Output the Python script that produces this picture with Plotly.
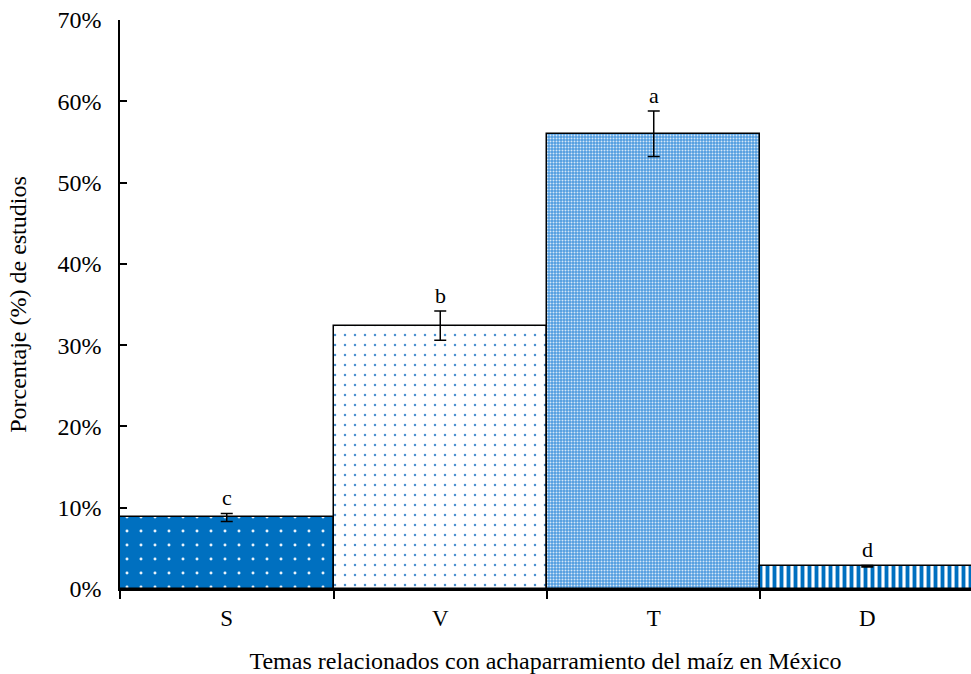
import plotly.graph_objects as go

# Data
categories = ["S", "V", "T", "D"]
values = [0.088, 0.324, 0.560, 0.028]
errors = [0.005, 0.018, 0.028, 0.001]
letters = ["c", "b", "a", "d"]
y_ticks = [0, 0.1, 0.2, 0.3, 0.4, 0.5, 0.6, 0.7]

BLUE = "#0070C0"
patterns = [
    dict(shape=".", bgcolor=BLUE, fgcolor="#E8F2FB", size=14, solidity=0.035, fillmode="replace"),
    dict(shape=".", bgcolor="white", fgcolor="#4A90D0", size=10, solidity=0.05, fillmode="replace"),
    dict(shape=".", bgcolor="#4E9BDF", fgcolor="#D6E7F7", size=3, solidity=0.35, fillmode="replace"),
    dict(shape="|", bgcolor="white", fgcolor=BLUE, size=7, solidity=0.55, fillmode="replace"),
]

FONT = "Liberation Serif, Times New Roman, serif"

fig = go.Figure()
for cat, val, err, pat in zip(categories, values, errors, patterns):
    fig.add_trace(go.Bar(
        x=[cat], y=[val],
        error_y=dict(type="data", array=[err], color="black", thickness=1.5, width=6),
        marker=dict(color=pat["bgcolor"], pattern=pat, line=dict(color="black", width=1.5)),
        showlegend=False,
    ))

for cat, val, err, lab in zip(categories, values, errors, letters):
    fig.add_annotation(x=cat, y=val + err, text=lab, showarrow=False,
                       yanchor="bottom", yshift=1,
                       font=dict(family=FONT, size=22, color="black"))

fig.update_layout(
    width=971, height=674,
    margin=dict(l=120, r=0, t=20, b=85),
    paper_bgcolor="white", plot_bgcolor="white",
    bargap=0, barmode="overlay",
    font=dict(family=FONT, size=23, color="black"),
)
fig.update_xaxes(
    range=[-0.5, 3.486], categoryorder="array", categoryarray=categories,
    showline=True, linecolor="black", linewidth=1.5,
    ticks="outside", tickson="boundaries", ticklen=8, tickcolor="black", tickwidth=1.5,
    tickfont=dict(family=FONT, size=23), ticklabelstandoff=8,
    title=dict(text="Temas relacionados con achaparramiento del maíz en México",
               font=dict(family=FONT, size=24), standoff=22),
    showgrid=False, zeroline=False,
)
fig.update_yaxes(
    range=[0, 0.7], tickvals=y_ticks, tickformat=".0%",
    showline=True, linecolor="black", linewidth=1.5,
    ticks="inside", ticklen=7, tickcolor="black", tickwidth=1.5,
    tickfont=dict(family=FONT, size=24), ticklabelstandoff=12,
    title=dict(text="Porcentaje (%) de estudios", font=dict(family=FONT, size=24), standoff=24),
    showgrid=False, zeroline=False,
)

fig.write_html("out.html")
